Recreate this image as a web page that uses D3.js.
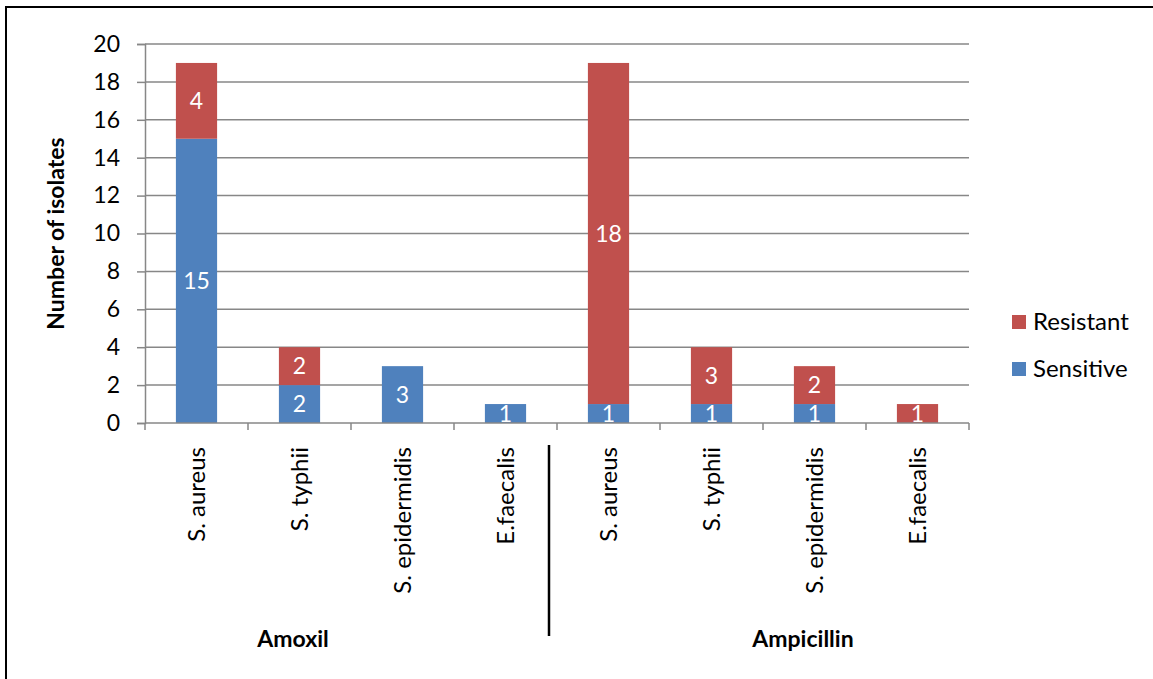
<!DOCTYPE html>
<html>
<head>
<meta charset="utf-8">
<title>Isolates</title>
<style>
  body { margin: 0; background: #fff; }
  text { font-family: Lato, "Open Sans", sans-serif; }
</style>
</head>
<body>
<script src="https://cdn.jsdelivr.net/npm/d3@7"></script>
<script>
var groups = ["Amoxil", "Ampicillin"];
var organisms = ["S. aureus", "S. typhii", "S. epidermidis", "E.faecalis"];
var sensitive = [15, 2, 3, 1, 1, 1, 1, 0];
var resistant = [4, 2, 0, 0, 18, 3, 2, 1];
var yTicks = [0, 2, 4, 6, 8, 10, 12, 14, 16, 18, 20];
var seriesNames = ["Resistant", "Sensitive"];
var colors = { Sensitive: "#4f81bd", Resistant: "#c0504d" };

var w = 1153, h = 679;
var plotL = 145, plotR = 969, plotT = 44, plotB = 423;
var fs = 23;

var svg = d3.select("body").append("svg").attr("width", w).attr("height", h);

// outer frame
svg.append("rect").attr("x", 6).attr("y", 7).attr("width", 1300).attr("height", 800)
  .attr("fill", "none").attr("stroke", "#000").attr("stroke-width", 2);

var keys = [];
groups.forEach(function(g) {
  organisms.forEach(function(o) { keys.push(g + "|" + o); });
});

var rows = keys.map(function(k, i) {
  return { key: k, org: k.split("|")[1], Sensitive: sensitive[i], Resistant: resistant[i] };
});

var x = d3.scaleBand().domain(keys).range([plotL, plotR]).paddingInner(0.6).paddingOuter(0.3);
var y = d3.scaleLinear().domain([0, 20]).range([plotB, plotT]);
var step = x.step();

// gridlines
svg.append("g").selectAll("line").data(yTicks.slice(1)).enter().append("line")
  .attr("x1", plotL).attr("x2", plotR)
  .attr("y1", function(d) { return y(d); }).attr("y2", function(d) { return y(d); })
  .attr("stroke", "#878787").attr("stroke-width", 1.5);

// y axis
var yAxis = svg.append("g").attr("transform", "translate(" + plotL + ",0)")
  .call(d3.axisLeft(y).tickValues(yTicks).tickSize(8).tickPadding(17));
yAxis.select(".domain").attr("stroke", "#878787").attr("stroke-width", 1.5);
yAxis.selectAll(".tick line").attr("stroke", "#878787").attr("stroke-width", 1.5);
yAxis.selectAll("text").attr("font-size", fs).attr("fill", "#000")
  .style("font-family", "Lato, sans-serif");

// stacked bars
var stack = d3.stack().keys(["Sensitive", "Resistant"]);
var layers = stack(rows);

svg.append("g").selectAll("g").data(layers).enter().append("g")
  .attr("fill", function(d) { return colors[d.key]; })
  .selectAll("rect").data(function(d) { return d; }).enter().append("rect")
  .attr("x", function(d) { return x(d.data.key); })
  .attr("width", x.bandwidth())
  .attr("y", function(d) { return y(d[1]); })
  .attr("height", function(d) { return y(d[0]) - y(d[1]); });

// value labels
svg.append("g").selectAll("g").data(layers).enter().append("g")
  .selectAll("text").data(function(d) { return d.filter(function(p) { return p[1] - p[0] > 0; }); })
  .enter().append("text")
  .attr("x", function(d) { return x(d.data.key) + x.bandwidth() / 2; })
  .attr("y", function(d) { return y((d[0] + d[1]) / 2); })
  .attr("dy", "0.36em")
  .attr("text-anchor", "middle")
  .attr("font-size", fs).attr("fill", "#fff")
  .text(function(d) { return d[1] - d[0]; });

// x axis line and ticks
svg.append("line").attr("x1", plotL).attr("x2", plotR).attr("y1", plotB).attr("y2", plotB)
  .attr("stroke", "#878787").attr("stroke-width", 1.5);
var bounds = d3.range(keys.length + 1).map(function(i) { return plotL + i * step; });
svg.append("g").selectAll("line").data(bounds).enter().append("line")
  .attr("x1", function(d) { return d; }).attr("x2", function(d) { return d; })
  .attr("y1", plotB).attr("y2", plotB + 7)
  .attr("stroke", "#878787").attr("stroke-width", 1.5);

// category labels
svg.append("g").selectAll("text").data(rows).enter().append("text")
  .attr("transform", function(d) {
    return "translate(" + (x(d.key) + x.bandwidth() / 2) + ",447) rotate(-90)";
  })
  .attr("dy", "0.35em")
  .attr("text-anchor", "end")
  .attr("font-size", 24).attr("fill", "#000")
  .text(function(d) { return d.org; });

// group separator
svg.append("line").attr("x1", 549).attr("x2", 549).attr("y1", 445).attr("y2", 636)
  .attr("stroke", "#000").attr("stroke-width", 2.5);

// group labels
svg.append("g").selectAll("text").data(groups).enter().append("text")
  .attr("x", function(d, i) { return i === 0 ? 293 : 803; })
  .attr("y", 647)
  .attr("text-anchor", "middle")
  .attr("font-size", fs).attr("font-weight", "bold").attr("fill", "#000")
  .text(function(d) { return d; });

// y axis title
svg.append("text")
  .attr("transform", "translate(64," + ((plotT + plotB) / 2) + ") rotate(-90)")
  .attr("text-anchor", "middle")
  .attr("font-size", fs).attr("font-weight", "bold").attr("fill", "#000")
  .text("Number of isolates");

// legend
var legend = svg.append("g").selectAll("g").data(seriesNames).enter().append("g")
  .attr("transform", function(d, i) { return "translate(1012," + (315 + i * 47) + ")"; });
legend.append("rect").attr("width", 14).attr("height", 14)
  .attr("fill", function(d) { return colors[d]; });
legend.append("text").attr("x", 21).attr("y", 15)
  .attr("font-size", 24).attr("fill", "#000")
  .text(function(d) { return d; });
</script>
</body>
</html>
